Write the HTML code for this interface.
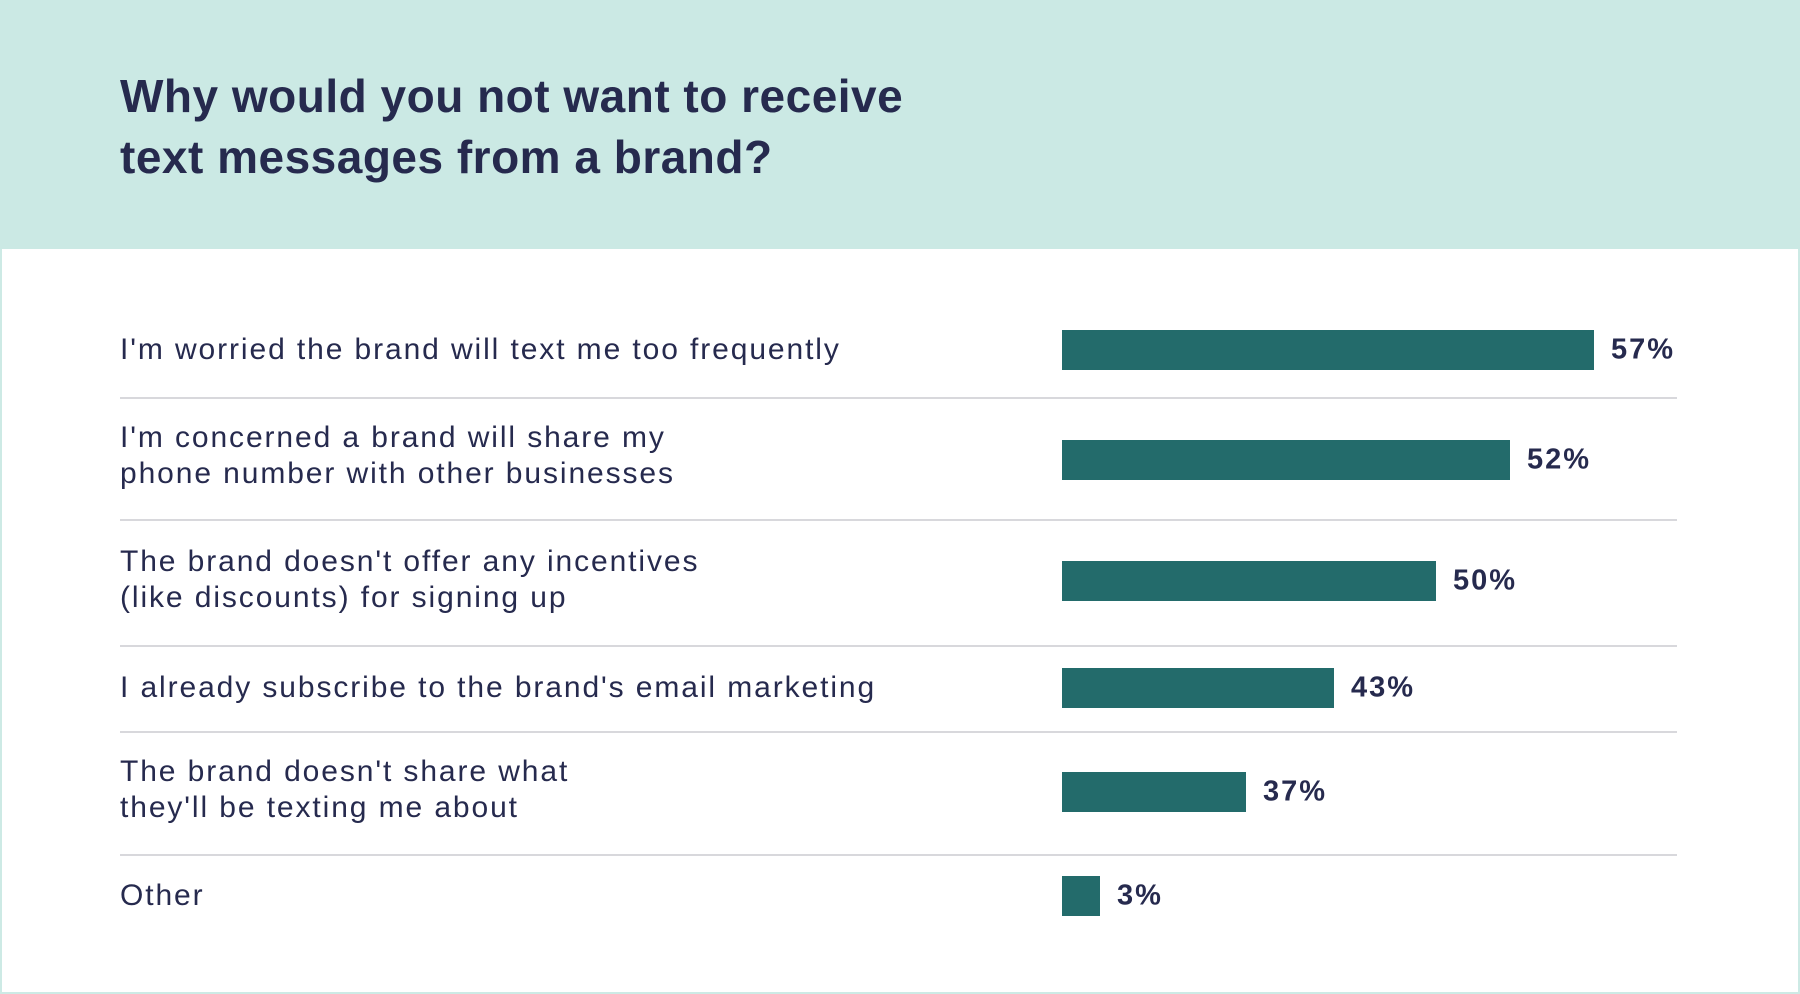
<!DOCTYPE html>
<html><head><meta charset="utf-8"><style>
body{margin:0;width:1800px;height:994px;overflow:hidden;background:#fff;font-family:"Liberation Sans",sans-serif;color:#262a4e}
.wrap{position:absolute;left:0;top:0;width:1796px;height:990px;border:2px solid #cdeae5;background:#fff}
.hdr{position:absolute;left:0;top:0;width:1800px;height:249px;background:#cbe9e4}
.t{position:absolute;left:120px;font-size:46px;font-weight:bold;line-height:1;letter-spacing:0.5px;transform:translateY(-50%);white-space:nowrap}
.l{position:absolute;left:120px;font-size:30px;line-height:1;letter-spacing:1.9px;transform:translateY(-50%);white-space:nowrap}
.b{position:absolute;left:1062px;height:40px;background:#236b6b}
.v{position:absolute;font-size:29px;font-weight:bold;line-height:1;letter-spacing:2px;transform:translateY(-50%)}
.s{position:absolute;left:120px;width:1557px;height:2px;background:#d8d8dc}
</style></head><body>
<div class="wrap"></div>
<div class="hdr"></div>
<div class="t" style="top:96px">Why would you not want to receive</div>
<div class="t" style="top:157px">text messages from a brand?</div>

<div class="l" style="top:350px">I'm worried the brand will text me too frequently</div>
<div class="b" style="top:330px;width:532px"></div><div class="v" style="top:350px;left:1611px">57%</div>
<div class="s" style="top:397px"></div>

<div class="l" style="top:438px">I'm concerned a brand will share my</div>
<div class="l" style="top:474px">phone number with other businesses</div>
<div class="b" style="top:440px;width:448px"></div><div class="v" style="top:460px;left:1527px">52%</div>
<div class="s" style="top:519px"></div>

<div class="l" style="top:562px">The brand doesn't offer any incentives</div>
<div class="l" style="top:598px">(like discounts) for signing up</div>
<div class="b" style="top:561px;width:374px"></div><div class="v" style="top:581px;left:1453px">50%</div>
<div class="s" style="top:645px"></div>

<div class="l" style="top:688px">I already subscribe to the brand's email marketing</div>
<div class="b" style="top:668px;width:272px"></div><div class="v" style="top:688px;left:1351px">43%</div>
<div class="s" style="top:731px"></div>

<div class="l" style="top:772px">The brand doesn't share what</div>
<div class="l" style="top:808px">they'll be texting me about</div>
<div class="b" style="top:772px;width:184px"></div><div class="v" style="top:792px;left:1263px">37%</div>
<div class="s" style="top:854px"></div>

<div class="l" style="top:896px">Other</div>
<div class="b" style="top:876px;width:38px"></div><div class="v" style="top:896px;left:1117px">3%</div>
</body></html>
